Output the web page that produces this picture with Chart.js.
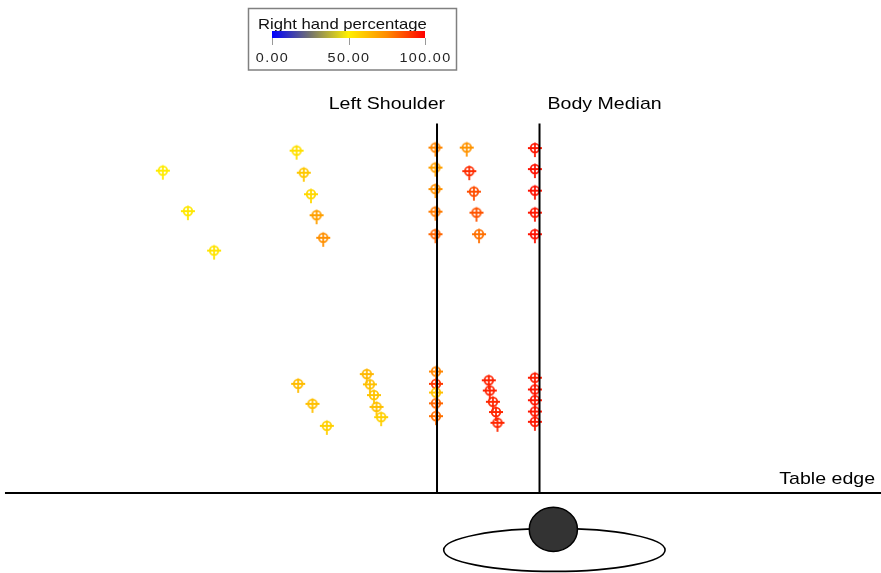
<!DOCTYPE html>
<html>
<head>
<meta charset="utf-8">
<script src="https://cdn.jsdelivr.net/npm/chart.js@4.4.1/dist/chart.umd.min.js"></script>
<style>
  html, body { margin: 0; padding: 0; background: #fff; overflow: hidden; }
  #wrap { width: 881px; height: 573px; }
</style>
</head>
<body>
<div id="wrap"><canvas id="reach" width="881" height="573"></canvas></div>
<script>
// Reach targets in cm: x measured from the body median (left is negative),
// y measured forward from the table edge.
const reachX = [
  -73.5, -68.6, -63.5,
  -47.4, -46.0, -44.6, -43.5, -42.2,
  -20.3, -20.3, -20.3, -20.3, -20.3,
  -14.2, -13.7, -12.8, -12.3, -11.8,
  -0.9, -0.9, -0.9, -0.9, -0.9,
  -47.1, -44.3, -41.5,
  -33.7, -33.1, -32.3, -31.8, -30.9,
  -20.2, -20.2, -20.2, -20.2, -20.2,
  -9.9, -9.7, -9.1, -8.5, -8.2,
  -0.9, -0.9, -0.9, -0.9, -0.9
];
const reachY = [
  62.9, 55.0, 47.3,
  66.8, 62.5, 58.3, 54.2, 49.8,
  67.4, 63.5, 59.3, 54.9, 50.5,
  67.4, 62.8, 58.8, 54.7, 50.5,
  67.3, 63.2, 59.0, 54.7, 50.5,
  21.3, 17.4, 13.1,
  23.2, 21.2, 19.1, 16.8, 14.8,
  23.7, 21.3, 19.6, 17.5, 15.0,
  22.0, 20.0, 17.8, 15.8, 13.7,
  22.5, 20.2, 18.1, 15.9, 13.9
];
// Share of right-hand reaches at each target (%)
const rightHandPct = [
  51, 52, 53,
  54, 60, 56, 70, 74,
  76, 70, 74, 78, 82,
  73, 92, 86, 85, 80,
  96, 97, 97, 96, 97,
  63, 62, 58,
  64, 62, 61, 62, 58,
  76, 90, 62, 82, 80,
  94, 94, 93, 93, 93,
  95, 96, 96, 96, 96
];

// Body landmarks (cm from the median) and their labels
const landmarkNames = ['Left Shoulder', 'Body Median'];
const landmarkX = [-20, 0];
const landmarkTopY = 72.1;
const tableEdgeLabel = 'Table edge';

// Colour bar
const colorbarTitle = 'Right hand percentage';
const colorbarTicks = [0, 50, 100];
const colorbarTickLabels = ['0.00', '50.00', '100.00'];

// Seated subject seen from above: head and shoulders outline (cm)
const headCenter = { x: 2.7, y: -7.1 };
const headRadius = { x: 4.7, y: 4.3 };
const shoulderCenter = { x: 2.9, y: -11.1 };
const shoulderRadius = { x: 21.6, y: 4.2 };

const FONT = "'Liberation Sans', Arial, sans-serif";
const TEXT_STRETCH = 1.15;

// Colour map: blue -> grey -> yellow -> orange -> red
const cmapStops = [
  [0, [0, 0, 255]],
  [25, [115, 115, 110]],
  [50, [255, 240, 0]],
  [75, [255, 140, 0]],
  [100, [255, 0, 0]]
];
function cmap(v) {
  for (let i = 1; i < cmapStops.length; i++) {
    const [v1, c1] = cmapStops[i];
    const [v0, c0] = cmapStops[i - 1];
    if (v <= v1) {
      const t = (v - v0) / (v1 - v0);
      const c = c0.map((a, k) => Math.round(a + (c1[k] - a) * t));
      return `rgb(${c[0]},${c[1]},${c[2]})`;
    }
  }
  return 'rgb(255,0,0)';
}

// Crosshair marker with a longer lower arm, cached per colour
const markerCache = {};
function crosshair(color) {
  if (markerCache[color]) return markerCache[color];
  const cv = document.createElement('canvas');
  cv.width = 22; cv.height = 22;
  const g = cv.getContext('2d');
  const c = 11;
  g.strokeStyle = color;
  g.lineWidth = 1.8;
  g.beginPath();
  g.arc(c, c, 4.3, 0, Math.PI * 2);
  g.moveTo(c - 7, c); g.lineTo(c + 7, c);
  g.moveTo(c, c - 5.5); g.lineTo(c, c + 9);
  g.stroke();
  markerCache[color] = cv;
  return cv;
}

function stretchedText(ctx, text, x, y, size, align, color, spacing) {
  ctx.save();
  ctx.font = `${size}px ${FONT}`;
  ctx.letterSpacing = spacing || '0px';
  ctx.fillStyle = color || '#000';
  const w = ctx.measureText(text).width * TEXT_STRETCH;
  const left = align === 'center' ? x - w / 2 : align === 'right' ? x - w : x;
  ctx.translate(left, y);
  ctx.scale(TEXT_STRETCH, 1);
  ctx.textAlign = 'left';
  ctx.textBaseline = 'alphabetic';
  ctx.fillText(text, 0, 0);
  ctx.restore();
}

const reachPoints = reachX.map((x, i) => ({ x, y: reachY[i] }));

const xMin = -105.27, xMax = 66.63, yMin = -15.61, yMax = 96.2;

// Landmark lines and table edge as line datasets
const lineDatasets = landmarkX.map((lx, i) => ({
  label: landmarkNames[i],
  type: 'line',
  data: [{ x: lx, y: 0 }, { x: lx, y: landmarkTopY }],
  borderColor: '#000',
  borderWidth: 2,
  pointRadius: 0,
  order: 0
}));
lineDatasets.push({
  label: tableEdgeLabel,
  type: 'line',
  data: [{ x: -104.3, y: 0 }, { x: xMax, y: 0 }],
  borderColor: '#000',
  borderWidth: 2,
  pointRadius: 0,
  order: 0
});

const annotations = {
  id: 'annotations',
  beforeDatasetsDraw(chart) {
    const { ctx, scales: { x, y } } = chart;
    ctx.save();
    // shoulders
    ctx.beginPath();
    ctx.ellipse(x.getPixelForValue(shoulderCenter.x), y.getPixelForValue(shoulderCenter.y),
      Math.abs(x.getPixelForValue(shoulderRadius.x) - x.getPixelForValue(0)),
      Math.abs(y.getPixelForValue(shoulderRadius.y) - y.getPixelForValue(0)), 0, 0, Math.PI * 2);
    ctx.fillStyle = '#fff';
    ctx.fill();
    ctx.lineWidth = 1.6;
    ctx.strokeStyle = '#000';
    ctx.stroke();
    // head
    ctx.beginPath();
    ctx.ellipse(x.getPixelForValue(headCenter.x), y.getPixelForValue(headCenter.y),
      Math.abs(x.getPixelForValue(headRadius.x) - x.getPixelForValue(0)),
      Math.abs(y.getPixelForValue(headRadius.y) - y.getPixelForValue(0)), 0, 0, Math.PI * 2);
    ctx.fillStyle = '#333';
    ctx.fill();
    ctx.lineWidth = 1.5;
    ctx.stroke();
    ctx.restore();

    // landmark and table labels
    const topPx = y.getPixelForValue(landmarkTopY);
    stretchedText(ctx, landmarkNames[0], x.getPixelForValue(landmarkX[0]) + 8, topPx - 15, 17, 'right');
    stretchedText(ctx, landmarkNames[1], x.getPixelForValue(landmarkX[1]) + 8, topPx - 15, 17, 'left');
    stretchedText(ctx, tableEdgeLabel, 875, y.getPixelForValue(0) - 9, 17, 'right');

    // colour bar legend
    const bx = 248.5, by = 8.5, bw = 208, bh = 61.5;
    ctx.save();
    ctx.strokeStyle = '#808080';
    ctx.lineWidth = 1.5;
    ctx.strokeRect(bx, by, bw, bh);
    ctx.restore();
    stretchedText(ctx, colorbarTitle, 258, 29, 14.5, 'left', '#111');
    const gx0 = 272, gx1 = 425, gy = 31, gh = 7;
    const grad = ctx.createLinearGradient(gx0, 0, gx1, 0);
    for (let v = 0; v <= 100; v += 5) grad.addColorStop(v / 100, cmap(v));
    ctx.save();
    ctx.fillStyle = grad;
    ctx.fillRect(gx0, gy, gx1 - gx0, gh);
    ctx.strokeStyle = '#999';
    ctx.lineWidth = 1;
    colorbarTicks.forEach((t) => {
      const tx = Math.round(gx0 + (gx1 - gx0) * t / 100) + 0.5;
      ctx.beginPath();
      ctx.moveTo(tx, gy + gh);
      ctx.lineTo(tx, gy + gh + 7);
      ctx.stroke();
    });
    ctx.restore();
    colorbarTicks.forEach((t, i) => {
      const tx = gx0 + (gx1 - gx0) * t / 100;
      stretchedText(ctx, colorbarTickLabels[i], tx + 0.5, 62, 12.5, 'center', '#222', '1.2px');
    });
  }
};

new Chart(document.getElementById('reach'), {
  type: 'scatter',
  data: {
    datasets: [
      ...lineDatasets,
      {
        label: colorbarTitle,
        data: reachPoints,
        pointStyle: (c) => crosshair(cmap(rightHandPct[c.dataIndex])),
        pointRadius: 6,
        pointHoverRadius: 6,
        order: 1
      }
    ]
  },
  options: {
    responsive: false,
    devicePixelRatio: 1,
    animation: false,
    layout: { padding: 0, autoPadding: false },
    plugins: { legend: { display: false }, tooltip: { enabled: false } },
    scales: {
      x: { type: 'linear', min: xMin, max: xMax, display: false },
      y: { type: 'linear', min: yMin, max: yMax, display: false }
    }
  },
  plugins: [annotations]
});
</script>
</body>
</html>
